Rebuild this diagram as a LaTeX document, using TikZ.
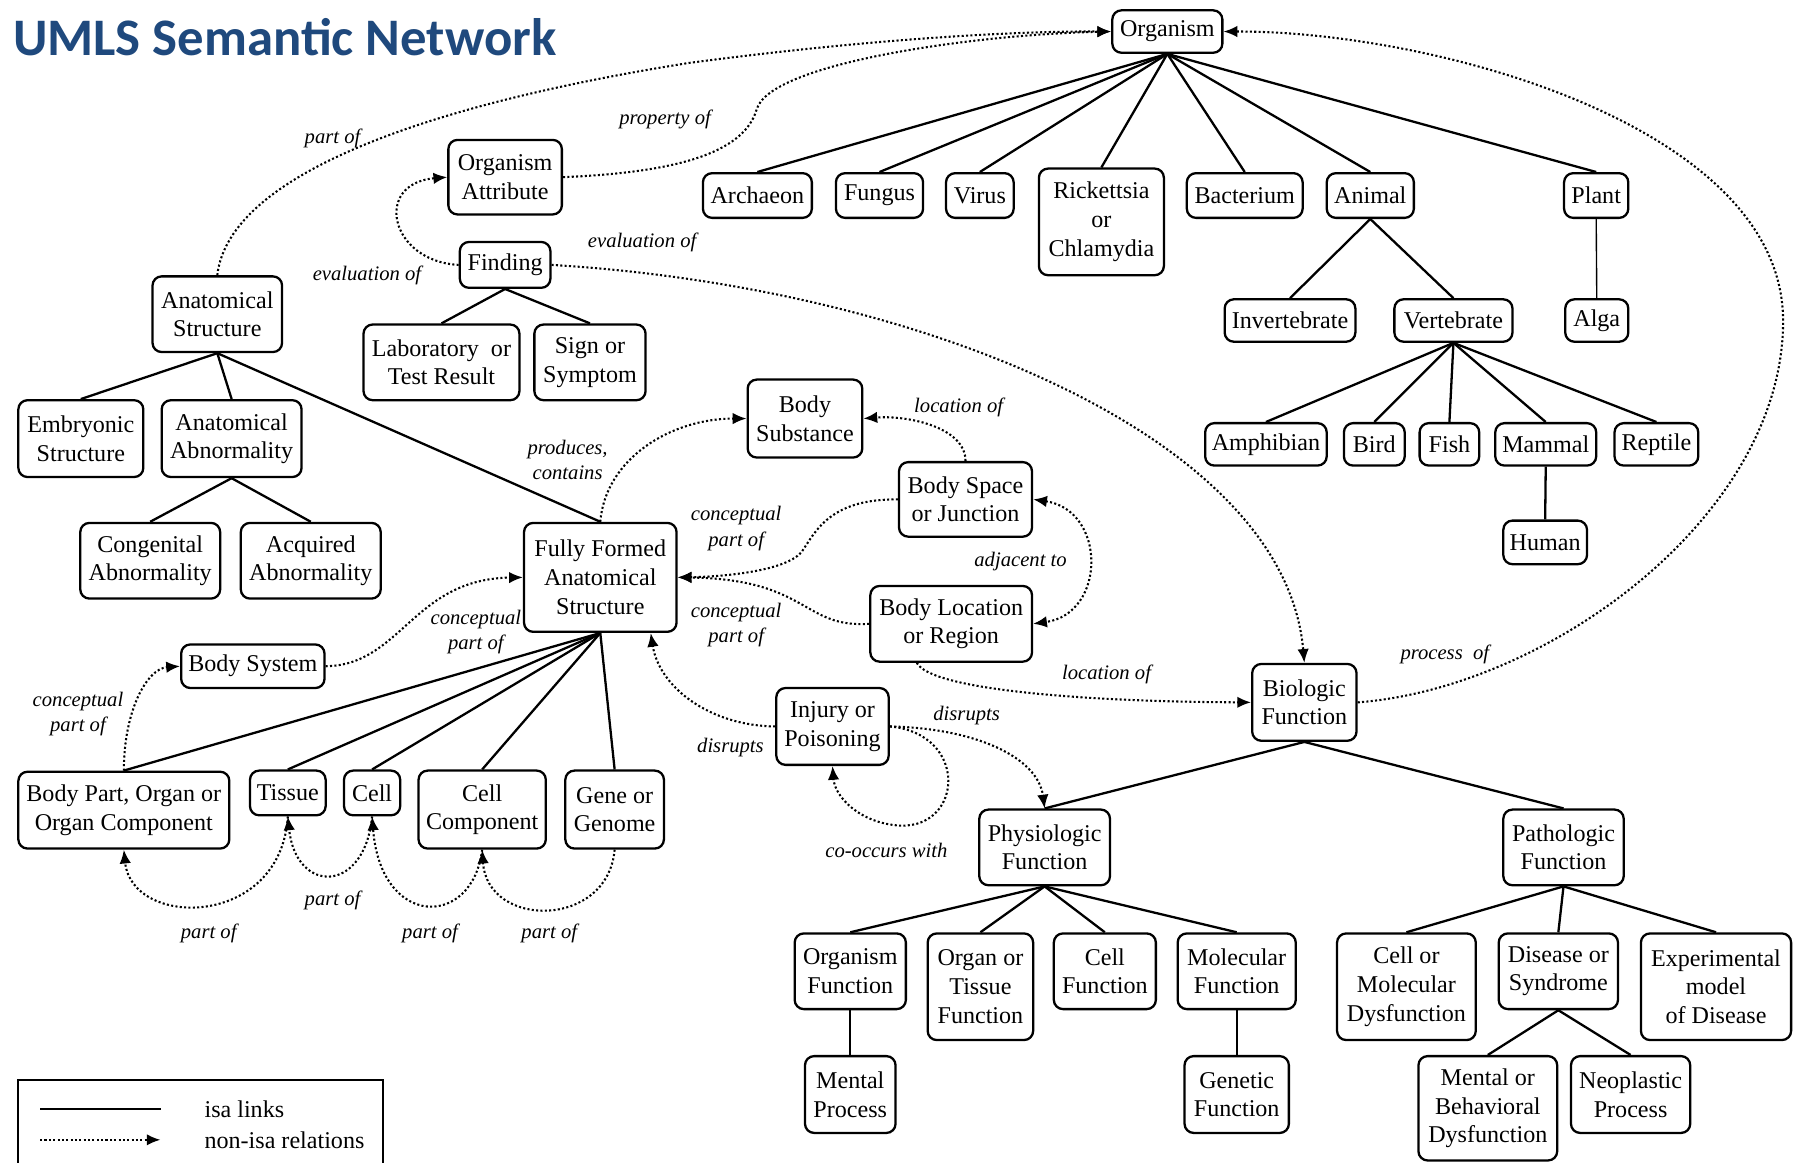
\documentclass[tikz,border=0pt]{standalone}
\usepackage{fontspec}
\setmainfont{LiberationSerif}[
  Extension=.ttf,
  UprightFont=*-Regular,
  BoldFont=*-Bold,
  ItalicFont=*-Italic,
  BoldItalicFont=*-BoldItalic]
\newfontfamily\titlefont{Carlito}
\usetikzlibrary{arrows.meta}
\definecolor{titleblue}{RGB}{31,73,125}

\begin{document}
\begin{tikzpicture}[x=0.5pt,y=-0.5pt,
  box/.style={draw, line width=1pt, rounded corners=4pt, align=center, inner sep=1.5pt,
              font=\fontsize{10.5}{12.5}\selectfont},
  wh/.style 2 args={minimum width=#1*0.5pt, minimum height=#2*0.5pt},
  isa/.style={line width=1pt},
  thinisa/.style={line width=0.6pt},
  rel/.style={densely dotted, line width=0.9pt, -{Latex[length=6pt,width=5pt]}},
  relboth/.style={densely dotted, line width=0.9pt, {Latex[length=6pt,width=5pt]}-{Latex[length=6pt,width=5pt]}},
  lab/.style={font=\fontsize{9}{11}\selectfont\itshape, align=center, inner sep=0pt},
  legtext/.style={anchor=west, inner sep=0pt, font=\fontsize{10.5}{12.5}\selectfont},
]
\useasboundingbox (0,0) rectangle (1568,1014);
\fill[white] (0,0) rectangle (1568,1014);

% title
\node[anchor=base west, inner sep=0pt, text=titleblue,
      font=\titlefont\bfseries\fontsize{23}{27}\selectfont] (title) at (11,48) {UMLS Semantic Network};

% ---------- organisms ----------
\node[box, wh={96}{37}]  (org)      at (1018,27.5)  {Organism};
\node[box, wh={95}{39}]  (archaeon) at (660.5,170.5) {Archaeon};
\node[box, wh={76}{39}]  (fungus)   at (767,170.5)   {Fungus};
\node[box, wh={59}{39}]  (virus)    at (854.5,170.5) {Virus};
\node[box, wh={109}{93}] (rick)     at (960.5,193.5) {Rickettsia\\or\\Chlamydia};
\node[box, wh={101}{39}] (bact)     at (1085.5,170.5) {Bacterium};
\node[box, wh={76}{39}]  (animal)   at (1195,170.5)  {Animal};
\node[box, wh={56}{39}]  (plant)    at (1392,170.5)  {Plant};
\node[box, wh={114}{37}] (invert)   at (1125,279.5)  {Invertebrate};
\node[box, wh={103}{37}] (vert)     at (1267.5,279.5) {Vertebrate};
\node[box, wh={55}{37}]  (alga)     at (1392.5,279.5) {Alga};
\node[box, wh={106}{37}] (amph)     at (1104,387.5)  {Amphibian};
\node[box, wh={53}{37}]  (bird)     at (1198.5,387.5) {Bird};
\node[box, wh={52}{37}]  (fish)     at (1264,387.5)  {Fish};
\node[box, wh={88}{37}]  (mammal)   at (1348,387.5)  {Mammal};
\node[box, wh={73}{37}]  (reptile)  at (1444.5,387.5) {Reptile};
\node[box, wh={73}{38}]  (human)    at (1347.5,473)  {Human};

% ---------- findings ----------
\node[box, wh={99}{65}]  (oattr) at (440.5,154.5) {Organism\\Attribute};
\node[box, wh={79}{40}]  (find)  at (440.5,231)   {Finding};
\node[box, wh={136}{66}] (lab)   at (385,316)     {Laboratory\ \ or\\Test Result};
\node[box, wh={97}{66}]  (sign)  at (514.5,316)   {Sign or\\Symptom};

% ---------- anatomy ----------
\node[box, wh={113}{66}] (anat)   at (189.5,274)  {Anatomical\\Structure};
\node[box, wh={109}{67}] (embr)   at (70.5,382.5) {Embryonic\\Structure};
\node[box, wh={122}{67}] (aabn)   at (202,382.5)  {Anatomical\\Abnormality};
\node[box, wh={122}{66}] (cong)   at (131,489)    {Congenital\\Abnormality};
\node[box, wh={122}{66}] (acq)    at (271,489)    {Acquired\\Abnormality};
\node[box, wh={133}{95}] (ffas)   at (523.5,503.5) {Fully Formed\\Anatomical\\Structure};
\node[box, wh={100}{68}] (bsub)   at (702,365)    {Body\\Substance};
\node[box, wh={116}{65}] (bspace) at (842,435.5)  {Body Space\\or Junction};
\node[box, wh={141}{66}] (bloc)   at (829.5,544)  {Body Location\\or Region};
\node[box, wh={125}{38}] (bsys)   at (220.5,581)  {Body System};
\node[box, wh={184}{67}] (bpart)  at (108,706.5)  {Body Part, Organ or\\Organ Component};
\node[box, wh={66}{39}]  (tissue) at (251,691.5)  {Tissue};
\node[box, wh={49}{39}]  (cell)   at (324.5,691.5) {Cell};
\node[box, wh={111}{68}] (ccomp)  at (420.5,706)  {Cell\\Component};
\node[box, wh={86}{68}]  (gene)   at (536,706)    {Gene or\\Genome};
\node[box, wh={98}{67}]  (injury) at (726,633.5)  {Injury or\\Poisoning};

% ---------- functions ----------
\node[box, wh={91}{67}]  (biofn)   at (1137.5,612.5) {Biologic\\Function};
\node[box, wh={114}{66}] (physio)  at (911,739)     {Physiologic\\Function};
\node[box, wh={105}{66}] (patho)   at (1363.5,739)  {Pathologic\\Function};
\node[box, wh={97}{66}]  (orgfn)   at (741.5,847)   {Organism\\Function};
\node[box, wh={92}{93}]  (otfn)    at (855,860.5)   {Organ or\\Tissue\\Function};
\node[box, wh={89}{66}]  (cellfn)  at (963.5,847)   {Cell\\Function};
\node[box, wh={103}{66}] (molfn)   at (1078.5,847)  {Molecular\\Function};
\node[box, wh={79}{67}]  (mental)  at (741.5,954.5) {Mental\\Process};
\node[box, wh={91}{67}]  (genfn)   at (1078.5,954.5) {Genetic\\Function};
\node[box, wh={121}{93}] (cmdys)   at (1226.5,860.5) {Cell or\\Molecular\\Dysfunction};
\node[box, wh={104}{66}] (disease) at (1359,847)    {Disease or\\Syndrome};
\node[box, wh={131}{93}] (expm)    at (1496.5,860.5) {Experimental\\model\\of Disease};
\node[box, wh={121}{91}] (mbdys)   at (1297.5,966.5) {Mental or\\Behavioral\\Dysfunction};
\node[box, wh={104}{67}] (neo)     at (1422,954.5)  {Neoplastic\\Process};

% ---------- isa links ----------
\foreach \p/\c in {org/archaeon, org/fungus, org/virus, org/rick, org/bact, org/animal, org/plant,
                   animal/invert, animal/vert, vert/amph, vert/bird, vert/fish, vert/mammal, vert/reptile,
                   mammal/human, find/lab, find/sign, anat/embr, anat/aabn, anat/ffas,
                   aabn/cong, aabn/acq, ffas/bpart, ffas/tissue, ffas/cell, ffas/ccomp, ffas/gene,
                   biofn/physio, biofn/patho, physio/orgfn, physio/otfn, physio/cellfn, physio/molfn,
                   orgfn/mental, molfn/genfn, patho/cmdys, patho/disease, patho/expm,
                   disease/mbdys, disease/neo}
  \draw[isa] (\p.south) -- (\c.north);
\draw[thinisa] (plant.south) -- (alga.north);

% ---------- non-isa relations ----------
\draw[rel] (anat.north) .. controls (200,150) and (380,90) .. (600,55)
           .. controls (750,35) and (880,27) .. (org.west);
\draw[rel] (oattr.east) .. controls (600,150) and (650,130) .. (660,95)
           .. controls (672,55) and (850,30) .. (org.west);
\draw[rel] (find.west) .. controls (340,228) and (325,160) .. (oattr.west);
\draw[rel] (find.east) .. controls (800,250) and (1120,380) .. (biofn.north);
\draw[rel] (biofn.east) .. controls (1350,600) and (1555,450) .. (1555,280)
           .. controls (1555,110) and (1250,27) .. (org.east);
\draw[rel] (ffas.north) .. controls (528,400) and (585,365) .. (bsub.west);
\draw[rel] (bspace.north) .. controls (842,372) and (790,362) .. (bsub.east);
\draw[rel] (bspace.west) .. controls (725,435) and (712,462) .. (700,480)
           .. controls (688,498) and (630,503) .. (ffas.east);
\draw[rel] (bloc.west) .. controls (700,548) and (705,505) .. (ffas.east);
\draw[relboth] (bspace.east) .. controls (965,445) and (965,535) .. (bloc.east);
\draw[rel] ([xshift=-15pt]bloc.south) .. controls (812,602) and (950,612) .. (biofn.west);
\draw[rel] (bsys.east) .. controls (350,580) and (360,505) .. (ffas.west);
\draw[rel] (bpart.north) .. controls (108,620) and (128,583) .. (bsys.west);
\draw[rel] (tissue.south) .. controls (245,810) and (115,810) .. (bpart.south);
\draw[rel] (cell.south) .. controls (318,780) and (258,780) .. (tissue.south);
\draw[rel] (ccomp.south) .. controls (412,810) and (332,810) .. (cell.south);
\draw[rel] (gene.south) .. controls (530,810) and (425,810) .. (ccomp.south);
\draw[rel] (injury.west) .. controls (620,633) and (575,600) .. ([xshift=22pt]ffas.south);
\draw[rel] (injury.east) .. controls (850,635) and (905,660) .. (physio.north);
\draw[rel] (injury.east) .. controls (845,640) and (840,722) .. (785,720)
           .. controls (750,718) and (728,695) .. (injury.south);

% ---------- relation labels ----------
\node[lab] (lpartof) at (290,121) {part of};
\node[lab] (lprop)   at (580,104) {property of};
\node[lab] (levl)    at (320,240) {evaluation of};
\node[lab] (levr)    at (560,211) {evaluation of};
\node[lab] (lprod)   at (495,401) {produces,\\contains};
\node[lab] (lloc1)   at (836,355) {location of};
\node[lab] (lcp1)    at (642,461) {conceptual\\part of};
\node[lab] (lcp2)    at (642,545) {conceptual\\part of};
\node[lab] (ladj)    at (890,490) {adjacent to};
\node[lab] (lloc2)   at (965,588) {location of};
\node[lab] (lproc)   at (1260,571) {process\ \ of};
\node[lab] (lcp3)    at (415,551) {conceptual\\part of};
\node[lab] (lcp4)    at (68,623)  {conceptual\\part of};
\node[lab] (ldis1)   at (637,652) {disrupts};
\node[lab] (ldis2)   at (843,624) {disrupts};
\node[lab] (lco)     at (773,742) {co-occurs with};
\node[lab] (lp1)     at (182,814) {part of};
\node[lab] (lp2)     at (290,785) {part of};
\node[lab] (lp3)     at (375,814) {part of};
\node[lab] (lp4)     at (479,814) {part of};

% ---------- legend ----------
\draw[line width=1pt] (16,1020) -- (16,942) -- (334,942) -- (334,1020);
\coordinate (l1a) at (35,967);
\coordinate (l1b) at (140,967);
\draw[line width=0.7pt] (l1a) -- (l1b);
\node[legtext] (l1t) at (178,967) {isa links};
\coordinate (l2a) at (35,994);
\coordinate (l2b) at (140,994);
\draw[rel] (l2a) -- (l2b);
\node[legtext] (l2t) at (178,994) {non-isa relations};
\end{tikzpicture}
\end{document}
